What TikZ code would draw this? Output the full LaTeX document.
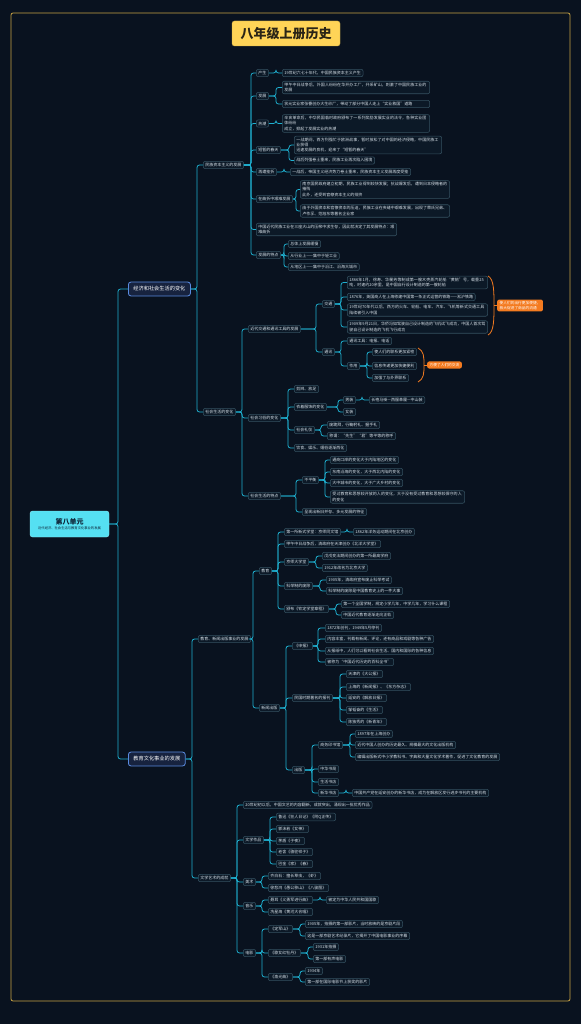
\documentclass[tikz,border=0pt]{standalone}
\usepackage{fontspec}
\setmainfont{Noto Sans CJK SC}
\XeTeXlinebreaklocale "zh"
\XeTeXlinebreakskip=0pt plus 0.5pt
\usepackage{xcolor}
\definecolor{bgnavy}{HTML}{09121F}
\definecolor{framegold}{HTML}{C9A445}
\definecolor{titleyellow}{HTML}{FFD457}
\definecolor{titleink}{HTML}{2A2416}
\definecolor{rootcyan}{HTML}{55E0F2}
\definecolor{rootink}{HTML}{0E2236}
\definecolor{linkcyan}{HTML}{1FB0D0}
\definecolor{boxline}{HTML}{34505F}
\definecolor{boxfill}{HTML}{0C1927}
\definecolor{boxtext}{HTML}{D7E0E8}
\definecolor{mainline}{HTML}{5A8BE0}
\definecolor{mainfill}{HTML}{17233F}
\definecolor{noteorange}{HTML}{F47B20}
\newcommand{\branch}[3]{% {parent}{trunk x}{children}
  \coordinate (trk) at (#2,0);
  \foreach \kid in {#3}
    \draw[link] (#1.east) -- (#1.east -| trk) |- (\kid.west);
}
\tikzset{
  link/.style={linkcyan,line width=0.8pt,rounded corners=2.5pt},
  leaf/.style={draw=boxline,fill=boxfill,text=boxtext,line width=0.55pt,rounded corners=2pt,
    anchor=west,align=left,inner xsep=2.2pt,inner ysep=1.8pt,font=\fontsize{4}{5.2}\selectfont},
  mainbox/.style={draw=mainline,fill=mainfill,text=white,line width=0.8pt,rounded corners=2.5pt,
    anchor=west,inner xsep=5pt,inner ysep=4.5pt,font=\fontsize{5.2}{6}\selectfont},
  rootbox/.style={fill=rootcyan,draw=rootcyan!70!white,text=rootink,rounded corners=2.5pt,
    minimum width=79pt,minimum height=26pt,align=center,font=\fontsize{3.3}{4}\selectfont},
  titlebox/.style={fill=titleyellow,draw=titleyellow!80!black,text=titleink,rounded corners=2.5pt,
    minimum width=108pt,minimum height=25pt,font=\fontsize{13}{14}\selectfont\bfseries},
  notebox/.style={fill=noteorange,text=white,rounded corners=2pt,anchor=west,align=left,
    inner xsep=2.5pt,inner ysep=1.8pt,font=\fontsize{3.7}{4.8}\selectfont},
  brace/.style={noteorange,line width=0.8pt},
}
\begin{document}
\begin{tikzpicture}[x=1pt,y=-1pt]
  \fill[bgnavy] (0,0) rectangle (581,1024);
  \useasboundingbox (0,0) rectangle (581,1024);
  \draw[framegold,line width=0.8pt,rounded corners=2pt] (11,13) rectangle (570,1001);
  \node[titlebox] (title) at (286,33.5) {八年级上册历史};

  % Unit and main branches
  \node[rootbox] (unit) at (69.5,524) {{\fontsize{7}{9}\selectfont\bfseries 第八单元}\\[1pt]近代经济、社会生活与教育文化事业的发展};
  \node[mainbox] (econ) at (128,289) {经济和社会生活的变化};
  \node[mainbox] (culture) at (128,759) {教育文化事业的发展};
  \node[leaf] (capital) at (203,165) {民族资本主义的发展};
  \node[leaf] (life) at (203,412) {社会生活的变化};
  \node[leaf] (press) at (198,639) {教育、新闻出版事业的发展};
  \node[leaf] (arts) at (198,878) {文学艺术的成就};

  % National capitalism
  \node[leaf] (birth) at (256,73) {产生};
  \node[leaf] (birthA) at (282,73) {19世纪六七十年代，中国民族资本主义产生};
  \node[leaf] (grow) at (256,96) {发展};
  \node[leaf,text width=143pt] (growA) at (282,87.5) {甲午中日战争后，外国人纷纷在华开办工厂，开采矿山，刺激了中国民族工业的发展};
  \node[leaf,text width=143pt] (growB) at (282,104) {状元实业家张謇创办大生纱厂，带动了部分中国人走上“实业救国”道路};
  \node[leaf] (boom) at (256,123.5) {热潮};
  \node[leaf,text width=143pt] (boomA) at (282,123.5) {辛亥革命后，中华民国临时政府颁布了一系列奖励发展实业的法令，各种实业团体纷纷\\成立，掀起了发展实业的热潮};
  \node[leaf] (spring) at (256,150) {短暂的春天};
  \node[leaf,text width=143pt] (springA) at (294,145) {一战期间，西方列强忙于欧洲战事，暂时放松了对中国的经济侵略，中国民族工业获得\\迅速发展的良机，迎来了“短暂的春天”};
  \node[leaf] (springB) at (294,160.5) {战后列强卷土重来，民族工业再次陷入困境};
  \node[leaf] (setback) at (256,172) {再遭挫折};
  \node[leaf] (setbackA) at (290,172) {一战后，帝国主义经济势力卷土重来，民族资本主义发展再度受挫};
  \node[leaf] (hard) at (256,199) {在曲折中艰难发展};
  \node[leaf,text width=145pt] (hardA) at (300,189.5) {南京国民政府建立初期，民族工业得到较快发展；抗战爆发后，遭到日本侵略者的摧残\\此外，还受到官僚资本主义的排挤};
  \node[leaf,text width=145pt] (hardB) at (300,211) {由于外国资本和官僚资本的压迫，民族工业在夹缝中艰难发展，出现了荣氏兄弟、卢作孚、范旭东等著名企业家};
  \node[leaf,text width=136pt] (mountains) at (256,229.5) {中国近代民族工业在三座大山的压榨中求生存，因此就决定了其发展特点：艰难曲折};
  \node[leaf] (feature) at (256,255) {发展的特点};
  \node[leaf] (featA) at (288,244) {总体上发展缓慢};
  \node[leaf] (featB) at (288,256) {从行业上——集中于轻工业};
  \node[leaf] (featC) at (288,267) {从地区上——集中于沿江、沿海大城市};

  % Transport and communication
  \node[leaf] (transport) at (248,329) {近代交通和通讯工具的发展};
  \node[leaf] (traffic) at (322,304) {交通};
  \node[leaf,text width=136pt] (trafA) at (347,282.5) {1866年1月，徐寿、华蘅芳等制成第一艘木壳蒸汽轮船“黄鹄”号，载重25吨，时速约20余里，是中国自行设计制造的第一艘轮船};
  \node[leaf] (trafB) at (347,297) {1876年，英国商人在上海修建中国第一条正式运营的铁路——淞沪铁路};
  \node[leaf,text width=136pt] (trafC) at (347,310) {19世纪70年代以后，西方的火车、轮船、电车、汽车、飞机等新式交通工具陆续被引入中国};
  \node[leaf,text width=136pt] (trafD) at (347,327) {1909年9月21日，华侨冯如驾驶自己设计制造的飞机试飞成功，中国人首次驾驶自己设计制造的飞机飞行成功};
  \node[leaf] (telecom) at (322,352) {通讯};
  \node[leaf] (teleA) at (347,341) {通讯工具：电报、电话};
  \node[leaf] (effect) at (347,366) {作用};
  \node[leaf] (effA) at (372,352) {使人们的联系更加紧密};
  \node[leaf] (effB) at (372,366) {信息传递更加快捷便利};
  \node[leaf] (effC) at (372,378) {加强了与外界联系};
  % Notes
  \node[notebox] (noteA) at (497,305.5) {使人们的出行更加便捷，\\极大促进了商品的流通};
  \node[notebox] (noteB) at (427,365) {方便了人们的交流};
  \coordinate (braceAtop) at (488,276);
  \coordinate (braceAtip) at (494,305.5);
  \coordinate (braceAbot) at (488,335);
  \draw[brace] (braceAtop) .. controls +(6,3) and +(0,-14) .. (braceAtip) .. controls +(0,14) and +(6,-3) .. (braceAbot);
  \draw[brace] (braceAtip) -- (noteA.west);
  \coordinate (braceBtop) at (418,348);
  \coordinate (braceBtip) at (424,365);
  \coordinate (braceBbot) at (418,382);
  \draw[brace] (braceBtop) .. controls +(6,3) and +(0,-8) .. (braceBtip) .. controls +(0,8) and +(6,-3) .. (braceBbot);
  \draw[brace] (braceBtip) -- (noteB.west);

  % Customs
  \node[leaf] (custom) at (248,418) {社会习俗的变化};
  \node[leaf] (cusA) at (294,389) {剪辫、放足};
  \node[leaf] (dress) at (294,407) {衣着服饰的变化};
  \node[leaf] (menwear) at (343,400) {男装};
  \node[leaf] (menA) at (369,400) {长袍马褂—西服革履—中山装};
  \node[leaf] (womenwear) at (343,412) {女装};
  \node[leaf] (manners) at (294,430) {社会礼仪};
  \node[leaf] (manA) at (327,425) {废跪拜，行鞠躬礼、握手礼};
  \node[leaf] (manB) at (327,436) {称谓：“先生”“君”等平等的称呼};
  \node[leaf] (cusD) at (294,448) {饮食、娱乐、婚俗逐渐西化};
  \node[leaf] (trait) at (248,496) {社会生活的特点};
  \node[leaf] (uneven) at (302,480) {不平衡};
  \node[leaf] (unA) at (330,460) {通商口岸的变化大于内陆地区的变化};
  \node[leaf] (unB) at (330,472) {东南沿海的变化，大于西北内陆的变化};
  \node[leaf] (unC) at (330,483) {大中城市的变化，大于广大乡村的变化};
  \node[leaf,text width=130pt] (unD) at (330,497) {受过教育和思想较开放的人的变化，大于没有受过教育和思想较保守的人的变化};
  \node[leaf] (mixed) at (302,512) {呈现出新旧并存、多元发展的特征};

  % Education
  \node[leaf] (school) at (259,571) {教育};
  \node[leaf] (schA) at (284,532) {第一所新式学堂：京师同文馆};
  \node[leaf] (schA1) at (353,532) {1862年洋务运动期间在北京创办};
  \node[leaf] (schB) at (284,544) {甲午中日战争后，清政府在天津创办《北洋大学堂》};
  \node[leaf] (schC) at (284,562) {京师大学堂};
  \node[leaf] (schC1) at (322,556) {戊戌变法期间创办的第一所最高学府};
  \node[leaf] (schC2) at (322,568) {1912年改名为北京大学};
  \node[leaf] (exam) at (284,586) {科举制的废除};
  \node[leaf] (examA) at (326,580) {1905年，清政府宣布废止科举考试};
  \node[leaf] (examB) at (326,591) {科举制的废除是中国教育史上的一件大事};
  \node[leaf] (charter) at (284,609) {颁布《钦定学堂章程》};
  \node[leaf] (chartA) at (341,604) {第一个全国学制，规定小学几年，中学几年，学习什么课程};
  \node[leaf] (chartB) at (341,615) {中国近代教育逐渐走向正轨};

  % Press and publishing
  \node[leaf] (news) at (259,708) {新闻出版};
  \node[leaf] (shenbao) at (292,646) {《申报》};
  \node[leaf] (sbA) at (325,628) {1872年创刊，1949年5月停刊};
  \node[leaf] (sbB) at (325,639) {内容丰富，刊载有新闻、评论，还有商品和戏剧等各种广告};
  \node[leaf] (sbC) at (325,651) {从报纸中，人们可以看到社会生活、国内和国际的各种信息};
  \node[leaf] (sbD) at (325,662) {被称为“中国近代历史的百科全书”};
  \node[leaf] (papers) at (292,698) {民国时期著名的报刊};
  \node[leaf] (papA) at (346,674) {天津的《大公报》};
  \node[leaf] (papB) at (346,687) {上海的《新闻报》、《东方杂志》};
  \node[leaf] (papC) at (346,698) {延安的《解放日报》};
  \node[leaf] (papD) at (346,710) {邹韬奋的《生活》};
  \node[leaf] (papE) at (346,722) {陈独秀的《新青年》};
  \node[leaf] (publish) at (292,770) {出版};
  \node[leaf] (commercial) at (318,745) {商务印书馆};
  \node[leaf] (comA) at (355,734) {1897年在上海创办};
  \node[leaf] (comB) at (355,745) {近代中国人创办的历史最久、规模最大的文化出版机构};
  \node[leaf] (comC) at (355,757) {编辑出版新式中小学教科书、字典和大量文化学术著作，促进了文化教育的发展};
  \node[leaf] (zhonghua) at (318,769) {中华书局};
  \node[leaf] (shenghuo) at (318,782) {生活书店};
  \node[leaf] (xinhua) at (318,793) {新华书店};
  \node[leaf] (xinhuaA) at (352,793) {中国共产党在延安创办的新华书店，成为在解放区发行进步书刊的主要机构};

  % Literature and arts
  \node[leaf] (artsA) at (243,805) {20世纪初以后，中国文艺的内容翻新，成就突出，涌现出一批优秀作品};
  \node[leaf] (works) at (243,840) {文学作品};
  \node[leaf] (luxun) at (276,817) {鲁迅《狂人日记》《阿Q正传》};
  \node[leaf] (guomoruo) at (276,829) {郭沫若《女神》};
  \node[leaf] (maodun) at (276,841) {茅盾《子夜》};
  \node[leaf] (laoshe) at (276,852) {老舍《骆驼祥子》};
  \node[leaf] (bajin) at (276,864) {巴金《家》《春》};
  \node[leaf] (painting) at (243,882) {美术};
  \node[leaf] (qibaishi) at (268,876) {齐白石：擅长草虫，《虾》};
  \node[leaf] (xubeihong) at (268,888) {徐悲鸿《愚公移山》《八骏图》};
  \node[leaf] (music) at (243,906) {音乐};
  \node[leaf] (nieer) at (268,900) {聂耳《义勇军进行曲》};
  \node[leaf] (anthem) at (326,900) {被定为中华人民共和国国歌};
  \node[leaf] (xian) at (268,912) {冼星海《黄河大合唱》};
  \node[leaf] (film) at (243,953) {电影};
  \node[leaf] (dingjun) at (268,929) {《定军山》};
  \node[leaf] (djA) at (305,924) {1905年，拍摄的第一部影片，当时放映的是京剧片段};
  \node[leaf] (djB) at (305,936) {这是一部京剧艺术纪录片，它揭开了中国电影事业的序幕};
  \node[leaf] (genv) at (268,953) {《歌女红牡丹》};
  \node[leaf] (gnA) at (313,947) {1931年拍摄};
  \node[leaf] (gnB) at (313,959) {第一部有声电影};
  \node[leaf] (yuguang) at (268,977) {《渔光曲》};
  \node[leaf] (ygA) at (305,971) {1934年};
  \node[leaf] (ygB) at (305,982) {第一部在国际电影节上获奖的影片};

  % Connectors
  \branch{unit}{118}{econ,culture}
  \branch{econ}{197}{capital,life}
  \branch{culture}{192}{press,arts}
  \branch{capital}{251}{birth,grow,boom,spring,setback,hard,mountains,feature}
  \branch{birth}{276}{birthA}
  \branch{grow}{276}{growA,growB}
  \branch{boom}{276}{boomA}
  \branch{spring}{289}{springA,springB}
  \branch{setback}{284}{setbackA}
  \branch{hard}{296}{hardA,hardB}
  \branch{feature}{284}{featA,featB,featC}
  \branch{life}{242}{transport,custom,trait}
  \branch{transport}{316}{traffic,telecom}
  \branch{traffic}{341}{trafA,trafB,trafC,trafD}
  \branch{telecom}{341}{teleA,effect}
  \branch{effect}{367}{effA,effB,effC}
  \branch{custom}{288}{cusA,dress,manners,cusD}
  \branch{dress}{338}{menwear,womenwear}
  \branch{menwear}{362}{menA}
  \branch{manners}{321}{manA,manB}
  \branch{trait}{296}{uneven,mixed}
  \branch{uneven}{325}{unA,unB,unC,unD}
  \branch{press}{253}{school,news}
  \branch{school}{278}{schA,schB,schC,exam,charter}
  \branch{schA}{347}{schA1}
  \branch{schC}{316}{schC1,schC2}
  \branch{exam}{320}{examA,examB}
  \branch{charter}{336}{chartA,chartB}
  \branch{news}{286}{shenbao,papers,publish}
  \branch{shenbao}{318}{sbA,sbB,sbC,sbD}
  \branch{papers}{340}{papA,papB,papC,papD,papE}
  \branch{publish}{312}{commercial,zhonghua,shenghuo,xinhua}
  \branch{commercial}{350}{comA,comB,comC}
  \branch{xinhua}{346}{xinhuaA}
  \branch{arts}{237}{artsA,works,painting,music,film}
  \branch{works}{270}{luxun,guomoruo,maodun,laoshe,bajin}
  \branch{painting}{262}{qibaishi,xubeihong}
  \branch{music}{262}{nieer,xian}
  \branch{nieer}{320}{anthem}
  \branch{film}{262}{dingjun,genv,yuguang}
  \branch{dingjun}{300}{djA,djB}
  \branch{genv}{308}{gnA,gnB}
  \branch{yuguang}{300}{ygA,ygB}
\end{tikzpicture}
\end{document}
